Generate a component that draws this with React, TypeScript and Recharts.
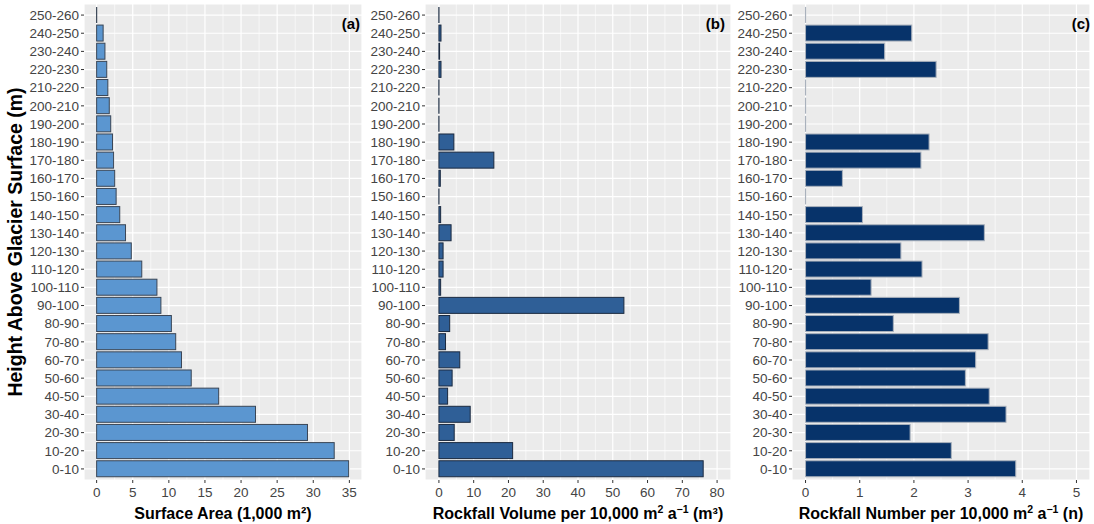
import { BarChart, Bar, XAxis, YAxis, CartesianGrid } from "recharts";

const heightBands = [
  "0-10", "10-20", "20-30", "30-40", "40-50", "50-60", "60-70", "70-80", "80-90",
  "90-100", "100-110", "110-120", "120-130", "130-140", "140-150", "150-160",
  "160-170", "170-180", "180-190", "190-200", "200-210", "210-220", "220-230",
  "230-240", "240-250", "250-260",
];

// surface area, 1,000 m2
const surfaceArea = [
  34.9, 32.9, 29.2, 22.0, 16.9, 13.1, 11.75, 10.95, 10.35, 8.9, 8.35, 6.25, 4.8,
  4.0, 3.2, 2.7, 2.5, 2.35, 2.2, 1.95, 1.75, 1.55, 1.4, 1.15, 0.9, 0,
];

// rockfall volume per 10,000 m2 per year (m3)
const rockfallVolume = [
  76.0, 21.2, 4.4, 9.0, 2.5, 3.8, 6.0, 1.9, 3.1, 53.2, 0.5, 1.2, 1.2, 3.5, 0.5, 0,
  0.4, 15.8, 4.3, 0, 0, 0, 0.6, 0.2, 0.6, 0,
];

// rockfall number per 10,000 m2 per year
const rockfallNumber = [
  3.88, 2.69, 1.93, 3.7, 3.39, 2.95, 3.14, 3.37, 1.62, 2.84, 1.21, 2.15, 1.76, 3.3,
  1.05, 0, 0.68, 2.13, 2.28, 0, 0, 0, 2.41, 1.46, 1.96, 0,
];

const areaTicks = [0, 5, 10, 15, 20, 25, 30, 35];
const areaMinor = [2.5, 7.5, 12.5, 17.5, 22.5, 27.5, 32.5];
const volumeTicks = [0, 10, 20, 30, 40, 50, 60, 70, 80];
const volumeMinor = [5, 15, 25, 35, 45, 55, 65, 75];
const numberTicks = [0, 1, 2, 3, 4, 5];
const numberMinor = [0.5, 1.5, 2.5, 3.5, 4.5];

// [text, superscript?]
const volumeTitle: [string, boolean][] = [
  ["Rockfall Volume per 10,000 m", false], ["2", true], [" a", false], ["−1", true], [" (m³)", false],
];
const numberTitle: [string, boolean][] = [
  ["Rockfall Number per 10,000 m", false], ["2", true], [" a", false], ["−1", true], [" (n)", false],
];
const areaTitle: [string, boolean][] = [["Surface Area (1,000 m²)", false]];

const FONT = "'Liberation Sans', Arial, sans-serif";
const H = 524;

function BandBar(props: any) {
  const { x, y, width, height, fill, stroke } = props;
  if (!width || width < 0.5) {
    return <line x1={x} x2={x} y1={y} y2={y + height} stroke={stroke} strokeWidth={1.2} />;
  }
  return <rect x={x} y={y} width={width} height={height} fill={fill} stroke={stroke} strokeWidth={1} />;
}

function XTitle({ viewBox, parts }: any) {
  if (!viewBox) return null;
  let raised = false;
  return (
    <text
      x={viewBox.x + viewBox.width / 2}
      y={viewBox.y + 39}
      textAnchor="middle"
      fontFamily={FONT}
      fontWeight="bold"
      fontSize={16}
      fill="#000"
    >
      {parts.map(([t, s]: [string, boolean], i: number) => {
        const dy = s === raised ? 0 : s ? -6 : 6;
        raised = s;
        return (
          <tspan key={i} dy={dy} fontSize={s ? 10.5 : 16}>
            {t}
          </tspan>
        );
      })}
    </text>
  );
}

function YTitle({ viewBox }: any) {
  if (!viewBox) return null;
  const cx = viewBox.x + 10;
  const cy = viewBox.y + viewBox.height / 2;
  return (
    <text
      x={cx}
      y={cy}
      transform={`rotate(-90 ${cx} ${cy})`}
      textAnchor="middle"
      dominantBaseline="central"
      fontFamily={FONT}
      fontWeight="bold"
      fontSize={19.5}
      fill="#000"
    >
      Height Above Glacier Surface (m)
    </text>
  );
}

interface PanelProps {
  left: number;
  width: number;
  axisWidth: number;
  marginLeft: number;
  marginRight: number;
  values: number[];
  domain: [number, number];
  ticks: number[];
  minor: number[];
  fill: string;
  stroke: string;
  tag: string;
  tagRight: number;
  title: [string, boolean][];
  showYTitle?: boolean;
}

function Panel(p: PanelProps) {
  const data = heightBands.map((band, i) => ({ band, value: p.values[i] }));
  return (
    <div style={{ position: "absolute", left: p.left, top: 0, width: p.width, height: H }}>
      <BarChart
        width={p.width}
        height={H}
        data={data}
        layout="vertical"
        margin={{ top: 4, right: p.marginRight, bottom: 0, left: p.marginLeft }}
        barCategoryGap="5%"
      >
        <CartesianGrid fill="#EBEBEB" fillOpacity={1} stroke="#fff" strokeWidth={1.2} />
        <CartesianGrid
          horizontal={false}
          verticalValues={p.minor}
          stroke="#fff"
          strokeWidth={0.6}
        />
        <XAxis
          type="number"
          domain={p.domain}
          ticks={p.ticks}
          allowDataOverflow
          axisLine={false}
          tickLine={{ stroke: "#333" }}
          tickSize={3}
          tickMargin={4}
          height={44}
          tick={{ fontSize: 13.5, fill: "#444", fontFamily: FONT }}
          label={<XTitle parts={p.title} />}
        />
        <YAxis
          type="category"
          dataKey="band"
          reversed
          width={p.axisWidth}
          interval={0}
          axisLine={false}
          tickLine={{ stroke: "#333" }}
          tickSize={3}
          tickMargin={2}
          padding={{ top: 2, bottom: 2 }}
          tick={{ fontSize: 13.5, fill: "#444", fontFamily: FONT }}
          label={p.showYTitle ? <YTitle /> : undefined}
        />
        <Bar
          dataKey="value"
          fill={p.fill}
          stroke={p.stroke}
          shape={<BandBar />}
          isAnimationActive={false}
        />
      </BarChart>
      <div
        style={{
          position: "absolute",
          right: p.tagRight,
          top: 15,
          fontFamily: FONT,
          fontWeight: "bold",
          fontSize: 15,
          lineHeight: "17px",
          color: "#000",
        }}
      >
        {p.tag}
      </div>
    </div>
  );
}

export default function App() {
  return (
    <div style={{ position: "absolute", left: 0, top: 0, width: 1094, height: H, background: "#fff" }}>
      <Panel
        left={0}
        width={366}
        axisWidth={79}
        marginLeft={5}
        marginRight={4}
        values={surfaceArea}
        domain={[-1.75, 36.75]}
        ticks={areaTicks}
        minor={areaMinor}
        fill="#5B96D0"
        stroke="#3A4656"
        tag="(a)"
        tagRight={6}
        title={areaTitle}
        showYTitle
      />
      <Panel
        left={366}
        width={368}
        axisWidth={59}
        marginLeft={0}
        marginRight={3}
        values={rockfallVolume}
        domain={[-4, 84]}
        ticks={volumeTicks}
        minor={volumeMinor}
        fill="#2F5F97"
        stroke="#1B2A40"
        tag="(b)"
        tagRight={9}
        title={volumeTitle}
      />
      <Panel
        left={734}
        width={360}
        axisWidth={58}
        marginLeft={0}
        marginRight={4}
        values={rockfallNumber}
        domain={[-0.25, 5.25]}
        ticks={numberTicks}
        minor={numberMinor}
        fill="#07336A"
        stroke="#A9B1BC"
        tag="(c)"
        tagRight={4}
        title={numberTitle}
      />
    </div>
  );
}
